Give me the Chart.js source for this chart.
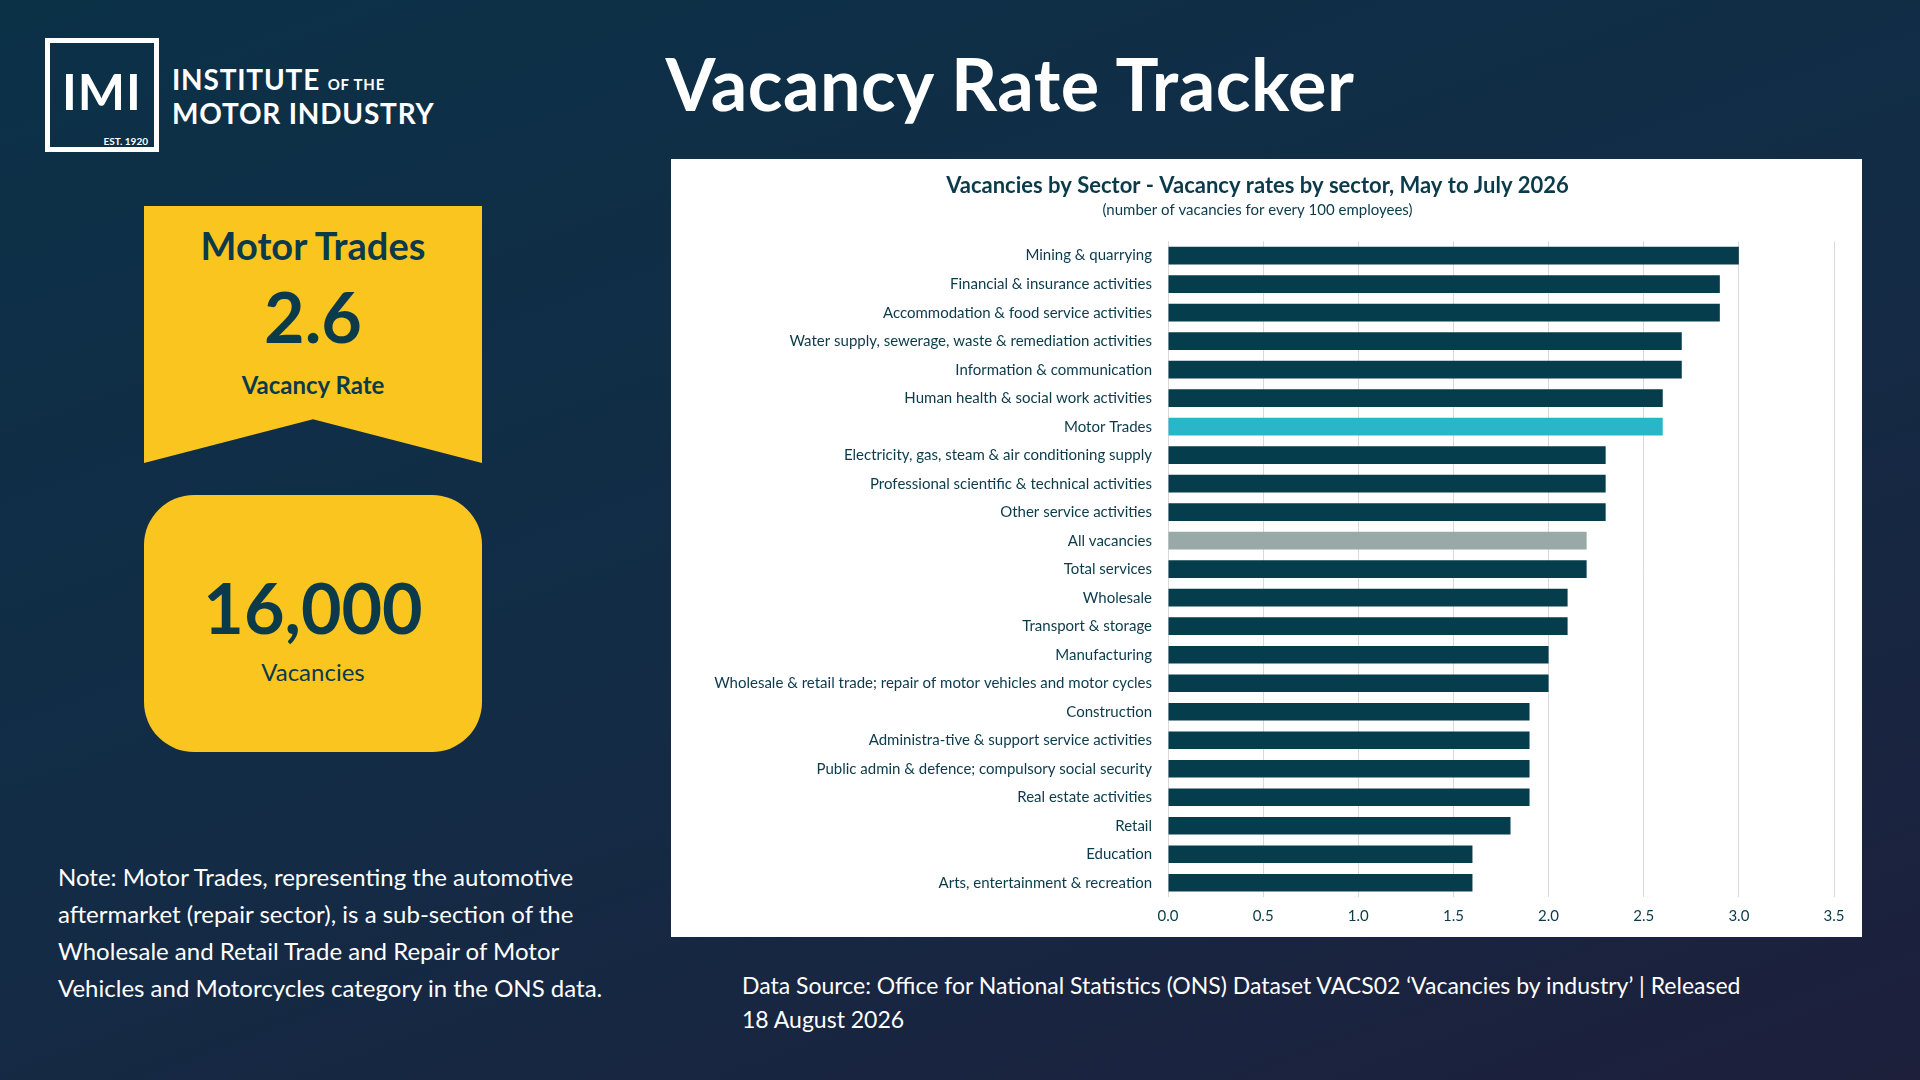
<!DOCTYPE html>
<html>
<head>
<meta charset="utf-8">
<script src="https://cdn.jsdelivr.net/npm/chart.js@4"></script>
<style>
  body { margin: 0; width: 1920px; height: 1080px; overflow: hidden;
         background: linear-gradient(160deg, #0b3147 0%, #132c46 50%, #1d1f3b 100%);
         font-family: Lato, "Open Sans", sans-serif; color: #fff; position: relative; }
  .logo { position: absolute; left: 45px; top: 38px; width: 104px; height: 104px;
          border: 5px solid #fff; }
  .logo .imi { position: absolute; left: 0; right: 0; top: 18px; text-align: center;
               font-size: 50px; font-weight: 700; letter-spacing: 1px; }
  .logo .est { position: absolute; right: 6px; bottom: 0px; font-size: 10px; font-weight: 700; }
  .logoText { position: absolute; left: 172px; top: 65px; font-size: 28px; font-weight: 700; line-height: 29px; letter-spacing: 0.8px; }
  .logoText small { font-size: 15px; }
  h1 { position: absolute; left: 590px; width: 840px; top: 40px; margin: 0; text-align: center;
       font-size: 72px; font-weight: 700; letter-spacing: 0.5px; }
  .banner { position: absolute; left: 144px; top: 206px; width: 338px; height: 257px; background: #fbc520;
            clip-path: polygon(0 0, 100% 0, 100% 100%, 50% 83%, 0 100%); color: #0b3a4a; text-align: center; }
  .banner .t { margin-top: 16px; font-size: 38px; font-weight: 700; }
  .banner .v { font-size: 70px; font-weight: 700; margin-top: 8px; line-height: 80px; }
  .banner .l { font-size: 24px; font-weight: 700; margin-top: 14px; }
  .box { position: absolute; left: 144px; top: 495px; width: 338px; height: 257px; background: #fbc520;
         border-radius: 50px; color: #0b3a4a; text-align: center; }
  .box .v { margin-top: 70px; font-size: 70px; font-weight: 700; }
  .box .l { font-size: 24px; margin-top: 8px; }
  .note { position: absolute; left: 58px; top: 858px; width: 575px; font-size: 24px; line-height: 37px; }
  .src { position: absolute; left: 742px; top: 968px; width: 1000px; font-size: 23px; line-height: 34px; }
  .panel { position: absolute; left: 671px; top: 159px; width: 1191px; height: 778px; background: #fff; }
</style>
</head>
<body>
<div class="logo"><div class="imi">IMI</div><div class="est">EST. 1920</div></div>
<div class="logoText">INSTITUTE <small>OF THE</small><br>MOTOR INDUSTRY</div>
<h1>Vacancy Rate Tracker</h1>
<div class="banner"><div class="t">Motor Trades</div><div class="v">2.6</div><div class="l">Vacancy Rate</div></div>
<div class="box"><div class="v">16,000</div><div class="l">Vacancies</div></div>
<div class="note">Note: Motor Trades, representing the automotive aftermarket (repair sector), is a sub-section of the Wholesale and Retail Trade and Repair of Motor Vehicles and Motorcycles category in the ONS data.</div>
<div class="src">Data Source: Office for National Statistics (ONS) Dataset VACS02 ‘Vacancies by industry’ | Released 18 August 2026</div>
<div class="panel"><canvas id="c" width="1191" height="778"></canvas></div>
<script>
const sectors = [
  'Mining & quarrying', 'Financial & insurance activities', 'Accommodation & food service activities',
  'Water supply, sewerage, waste & remediation activities', 'Information & communication',
  'Human health & social work activities', 'Motor Trades', 'Electricity, gas, steam & air conditioning supply',
  'Professional scientific & technical activities', 'Other service activities', 'All vacancies',
  'Total services', 'Wholesale', 'Transport & storage', 'Manufacturing',
  'Wholesale & retail trade; repair of motor vehicles and motor cycles', 'Construction',
  'Administra-tive & support service activities', 'Public admin & defence; compulsory social security',
  'Real estate activities', 'Retail', 'Education', 'Arts, entertainment & recreation'
];
const rates = [3.0, 2.9, 2.9, 2.7, 2.7, 2.6, 2.6, 2.3, 2.3, 2.3, 2.2, 2.2, 2.1, 2.1, 2.0, 2.0, 1.9, 1.9, 1.9, 1.9, 1.8, 1.6, 1.6];
const colours = sectors.map(s => s === 'Motor Trades' ? '#29b6c9' : s === 'All vacancies' ? '#98a9a8' : '#063d4c');

new Chart(document.getElementById('c'), {
  type: 'bar',
  data: { labels: sectors, datasets: [{ data: rates, backgroundColor: colours, barPercentage: 0.62, categoryPercentage: 1 }] },
  options: {
    indexAxis: 'y', responsive: false, animation: false,
    layout: { padding: { left: 10, right: 28, top: 8, bottom: 2 } },
    plugins: {
      legend: { display: false }, tooltip: { enabled: false },
      title: { display: true, text: 'Vacancies by Sector - Vacancy rates by sector, May to July 2026',
               color: '#0b3a4a', font: { family: 'Lato', size: 22, weight: 'bold' }, padding: { top: 6, bottom: 2 } },
      subtitle: { display: true, text: '(number of vacancies for every 100 employees)',
                  color: '#0b3a4a', font: { family: 'Lato', size: 15 }, padding: { bottom: 22 } }
    },
    scales: {
      x: { min: 0, max: 3.5, ticks: { stepSize: 0.5, callback: v => v.toFixed(1), color: '#0b3a4a', font: { family: 'Lato', size: 15 }, padding: 10 },
           grid: { color: '#d9d9d9', drawTicks: false }, border: { display: false } },
      y: { afterFit: s => { s.width = 487; }, ticks: { color: '#0b3a4a', font: { family: 'Lato', size: 15 }, padding: 8 },
           grid: { display: false }, border: { display: false } }
    }
  }
});
</script>
</body>
</html>
